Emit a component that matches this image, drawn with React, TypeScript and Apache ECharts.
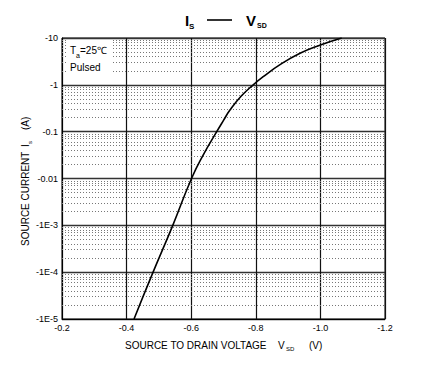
import React, { useEffect, useRef } from 'react';
import * as echarts from 'echarts';

// Source-drain voltage magnitude (V) and log10 of source current magnitude (A)
const voltage = [0.423, 0.482, 0.543, 0.601, 0.637, 0.679, 0.7, 0.72, 0.755, 0.792, 0.823, 0.875, 0.937, 1.0, 1.066];
const logCurrent = [-5, -4, -3, -2, -1.5, -1, -0.76, -0.538, -0.24, 0, 0.173, 0.43, 0.673, 0.85, 1];

const yTickLabels = ['-1E-5', '-1E-4', '-1E-3', '-0.01', '-0.1', '-1', '-10'];
const xTickLabels = ['-0.2', '-0.4', '-0.6', '-0.8', '-1.0', '-1.2'];
const decades = [-5, -4, -3, -2, -1, 0];
const mantissas = [2, 3, 4, 5, 6, 7, 8, 9];

const FONT = 'Liberation Sans, Arial, sans-serif';

export default function App() {
  const ref = useRef<HTMLDivElement>(null);
  useEffect(() => {
    document.body.style.margin = '0';
    const chart = echarts.init(ref.current!, null, { renderer: 'svg' });
    const minorLines: any[] = [];
    decades.forEach((d) => mantissas.forEach((m) => minorLines.push({ yAxis: d + Math.log10(m) })));
    const txt = (text: string, x: number, y: number, size: number, extra: any = {}) => ({
      type: 'text',
      x,
      y,
      z: 100,
      style: { text, fontSize: size, fontFamily: FONT, fill: '#000', ...extra },
    });
    const vtxt = (text: string, x: number, y: number, size: number) => ({
      type: 'text',
      z: 100,
      x,
      y,
      rotation: Math.PI / 2,
      style: { text, fontSize: size, fontFamily: FONT, fill: '#000' },
    });
    chart.setOption({
      animation: false,
      backgroundColor: '#fff',
      grid: { left: 62, top: 38, width: 323, height: 281, show: true, borderColor: '#000', borderWidth: 1, backgroundColor: 'transparent' },
      xAxis: {
        type: 'value',
        min: 0.2,
        max: 1.2,
        interval: 0.2,
        axisLine: { show: true, onZero: false, lineStyle: { color: '#000', width: 1 } },
        axisTick: { show: false },
        axisLabel: {
          color: '#000',
          fontSize: 9,
          fontFamily: FONT,
          margin: 4,
          formatter: (v: number) => xTickLabels[Math.round((v - 0.2) / 0.2)] ?? '',
        },
        splitLine: { show: true, lineStyle: { color: '#111', width: 1.2 } },
      },
      yAxis: {
        type: 'value',
        min: -5,
        max: 1,
        interval: 1,
        axisLine: { show: true, onZero: false, lineStyle: { color: '#000', width: 1 } },
        axisTick: { show: false },
        axisLabel: {
          color: '#000',
          fontSize: 9,
          fontFamily: FONT,
          margin: 4,
          formatter: (v: number) => yTickLabels[Math.round(v + 5)] ?? '',
        },
        splitLine: { show: true, lineStyle: { color: '#333', width: 1.3 } },
      },
      series: [
        {
          type: 'line',
          data: voltage.map((v, i) => [v, logCurrent[i]]),
          smooth: 0.5,
          symbol: 'none',
          lineStyle: { color: '#000', width: 1.6 },
          z: 10,
          markLine: {
            silent: true,
            symbol: 'none',
            label: { show: false },
            lineStyle: { color: '#777', width: 1, type: [1, 2] },
            data: minorLines,
            z: 2,
          },
        },
      ],
      graphic: [
        { type: 'rect', shape: { x: 66, y: 40, width: 46, height: 35 }, style: { fill: '#fff' }, z: 99 },
        txt('T', 70, 45, 10),
        txt('a', 76, 52, 7),
        txt('=25℃', 80, 45, 10),
        txt('Pulsed', 70, 62, 10),
        // title
        txt('I', 185, 13, 15, { fontWeight: 'bold' }),
        txt('S', 189, 22, 8, { fontWeight: 'bold' }),
        { type: 'line', z: 100, shape: { x1: 207, y1: 20, x2: 232, y2: 20 }, style: { stroke: '#000', lineWidth: 1.6 } },
        txt('V', 246, 13, 15, { fontWeight: 'bold' }),
        txt('SD', 257, 22, 7, { fontWeight: 'bold' }),
        // x axis name
        txt('SOURCE TO DRAIN VOLTAGE', 125, 340, 10),
        txt('V', 278, 340, 10),
        txt('SD', 286, 346, 6),
        txt('(V)', 309, 340, 10),
        // y axis name (rotated)
        vtxt('SOURCE CURRENT', 20, 246, 10),
        vtxt('I', 20, 147, 10),
        vtxt('s', 27, 144, 6),
        vtxt('(A)', 20, 130, 10),
      ],
    });
    return () => chart.dispose();
  }, []);
  return <div ref={ref} style={{ width: 447, height: 366 }} />;
}
